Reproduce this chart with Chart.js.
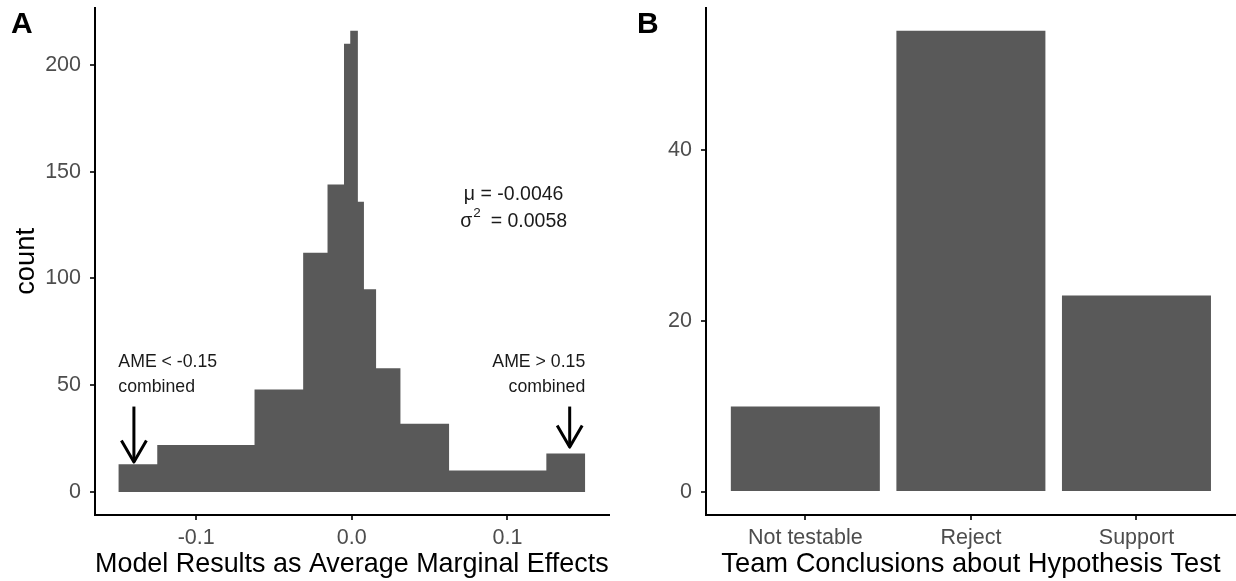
<!DOCTYPE html>
<html>
<head>
<meta charset="utf-8">
<script src="https://cdn.jsdelivr.net/npm/chart.js@4.4.1/dist/chart.umd.min.js"></script>
<style>
  html, body { margin: 0; padding: 0; background: #fff; }
  #wrap { position: relative; width: 1236px; height: 581px; overflow: hidden; }
  .panel { position: absolute; top: 0; width: 618px; height: 581px; }
  .tag { position: absolute; top: 6px; line-height: 30px; font: bold 30px "Liberation Sans", Arial, sans-serif; color: #000; }
</style>
</head>
<body>
<div id="wrap">
  <div class="panel" style="left:0"><canvas id="histChart" width="618" height="581"></canvas></div>
  <div class="panel" style="left:618px"><canvas id="conclChart" width="618" height="581"></canvas></div>
  <div class="tag" style="left:11px">A</div>
  <div class="tag" style="left:637px">B</div>
</div>
<script>
// panel A: histogram of average marginal effects (uneven bins)
const binEdges = [-0.15, -0.125, -0.0625, -0.03125, -0.0156, -0.005, -0.001, 0.0039, 0.0078, 0.0156, 0.03125, 0.0625, 0.125, 0.15];
const binCounts = [13, 22, 48, 112, 144, 210, 216, 136, 95, 58, 32, 10, 18];
const xTicksA = [-0.1, 0, 0.1];
const yTicksA = [0, 50, 100, 150, 200];

// panel B: team conclusions
const conclusions = ["Not testable", "Reject", "Support"];
const teamCounts = [10, 54, 23];
const yTicksB = [0, 20, 40];

// text annotations on panel A (data coordinates)
const notes = [
  { x: -0.15, y: 55, lines: ["AME < -0.15", "combined"], align: "left" },
  { x: 0.15, y: 55, lines: ["AME > 0.15", "combined"], align: "right" },
];
const arrows = [
  { x: -0.14, from: 40, to: 14 },
  { x: 0.14, from: 40, to: 21 },
];
const stats = { x: 0.104, y: 133, mu: "-0.0046", sigma2: "0.0058" };

const FONT = '"Liberation Sans", Arial, sans-serif';
Chart.defaults.font.family = FONT;
Chart.defaults.animation = false;

const axisStyle = {
  offset: false,
  grid: { offset: false, drawOnChartArea: false, drawTicks: true, tickLength: 5, color: "#333", lineWidth: 2 },
  border: { display: true, color: "#000", width: 2 },
};
const tickFont = { size: 21.5 };
const titleFont = { size: 27.3 };

// fix the box sizes so both panels share the same plot area
const fixBox = (w, h) => (s) => {
  if (w !== null) s.width = w;
  if (h !== null) s.height = h;
  s.paddingTop = 0; s.paddingBottom = 0; s.paddingLeft = 0; s.paddingRight = 0;
};

const histPoints = binCounts.map((c, i) => ({ x: binEdges[i], y: c }));
histPoints.push({ x: binEdges[binEdges.length - 1], y: binCounts[binCounts.length - 1] });

const annotate = {
  id: "annotate",
  afterDatasetsDraw(chart) {
    const { ctx, scales: { x, y } } = chart;
    ctx.save();
    ctx.fillStyle = "#1a1a1a";
    ctx.textBaseline = "middle";
    ctx.font = "17.7px " + FONT;
    notes.forEach((n) => {
      const px = x.getPixelForValue(n.x);
      const py = y.getPixelForValue(n.y);
      ctx.textAlign = n.align;
      n.lines.forEach((t, i) => ctx.fillText(t, px, py + (i - (n.lines.length - 1) / 2) * 25));
    });

    ctx.strokeStyle = "#000";
    ctx.lineWidth = 3;
    ctx.lineJoin = "round";
    arrows.forEach((a) => {
      const px = x.getPixelForValue(a.x);
      const y0 = y.getPixelForValue(a.from);
      const y1 = y.getPixelForValue(a.to);
      ctx.beginPath();
      ctx.moveTo(px, y0);
      ctx.lineTo(px, y1);
      ctx.stroke();
      const hl = 25, ang = Math.PI / 6;
      ctx.beginPath();
      ctx.moveTo(px - hl * Math.sin(ang), y1 - hl * Math.cos(ang));
      ctx.lineTo(px, y1);
      ctx.lineTo(px + hl * Math.sin(ang), y1 - hl * Math.cos(ang));
      ctx.stroke();
    });

    // mean / variance block
    const cx = x.getPixelForValue(stats.x);
    const cy = y.getPixelForValue(stats.y);
    const big = "19.5px " + FONT, small = "13.5px " + FONT;
    ctx.fillStyle = "#1a1a1a";
    ctx.textAlign = "center";
    ctx.font = big;
    ctx.fillText("\u03bc = " + stats.mu, cx, cy - 13.3);
    ctx.textAlign = "left";
    const rest = "  = " + stats.sigma2;
    const wSig = ctx.measureText("\u03c3").width;
    const wRest = ctx.measureText(rest).width;
    ctx.font = small;
    const wSup = ctx.measureText("2").width;
    const sx = cx - (wSig + wSup + wRest) / 2;
    const ly = cy + 13.3;
    ctx.font = big;
    ctx.fillText("\u03c3", sx, ly);
    ctx.font = small;
    ctx.fillText("2", sx + wSig + 1, ly - 8);
    ctx.font = big;
    ctx.fillText(rest, sx + wSig + wSup, ly);
    ctx.restore();
  },
};

new Chart(document.getElementById("histChart"), {
  type: "line",
  data: {
    datasets: [
      {
        data: histPoints,
        stepped: "before",
        fill: "origin",
        backgroundColor: "#595959",
        borderColor: "rgba(0,0,0,0)",
        borderWidth: 0,
        pointRadius: 0,
      },
    ],
  },
  options: {
    responsive: false,
    devicePixelRatio: 1,
    events: [],
    layout: { padding: { left: 0, right: 9.4, top: 7.8, bottom: 0 } },
    plugins: { legend: { display: false }, tooltip: { enabled: false } },
    scales: {
      x: {
        type: "linear",
        min: -0.165,
        max: 0.165,
        ...axisStyle,
        afterBuildTicks: (s) => { s.ticks = xTicksA.map((v) => ({ value: v })); },
        afterFit: fixBox(null, 66),
        ticks: { font: tickFont, color: "#4d4d4d", padding: 5, maxRotation: 0, callback: (v) => Number(v).toFixed(1) },
        title: { display: true, text: "Model Results as Average Marginal Effects", font: titleFont, color: "#000", padding: { top: 0, bottom: 0 } },
      },
      y: {
        type: "linear",
        min: -10.8,
        max: 226.8,
        ...axisStyle,
        afterBuildTicks: (s) => { s.ticks = yTicksA.map((v) => ({ value: v })); },
        afterFit: fixBox(95, null),
        ticks: { font: tickFont, color: "#4d4d4d", padding: 9 },
        title: { display: true, text: "count", font: titleFont, color: "#000", padding: { top: 10, bottom: 0 } },
      },
    },
  },
  plugins: [annotate],
});

new Chart(document.getElementById("conclChart"), {
  type: "bar",
  data: {
    datasets: [
      {
        data: teamCounts.map((v, i) => ({ x: i + 1, y: v })),
        backgroundColor: "#595959",
        barPercentage: 0.9,
        categoryPercentage: 1,
      },
    ],
  },
  options: {
    responsive: false,
    devicePixelRatio: 1,
    events: [],
    layout: { padding: { left: 0, right: 0.2, top: 7.8, bottom: 0 } },
    plugins: { legend: { display: false }, tooltip: { enabled: false } },
    scales: {
      x: {
        type: "linear",
        min: 0.4,
        max: 3.6,
        ...axisStyle,
        afterBuildTicks: (s) => { s.ticks = conclusions.map((c, i) => ({ value: i + 1 })); },
        afterFit: fixBox(null, 66),
        ticks: { font: tickFont, color: "#4d4d4d", padding: 5, maxRotation: 0, autoSkip: false, callback: (v) => conclusions[v - 1] },
        title: { display: true, text: "Team Conclusions about Hypothesis Test", font: titleFont, color: "#000", padding: { top: 0, bottom: 0 } },
      },
      y: {
        type: "linear",
        min: -2.7,
        max: 56.7,
        ...axisStyle,
        afterBuildTicks: (s) => { s.ticks = yTicksB.map((v) => ({ value: v })); },
        afterFit: fixBox(88, null),
        ticks: { font: tickFont, color: "#4d4d4d", padding: 9 },
      },
    },
  },
});
</script>
</body>
</html>
